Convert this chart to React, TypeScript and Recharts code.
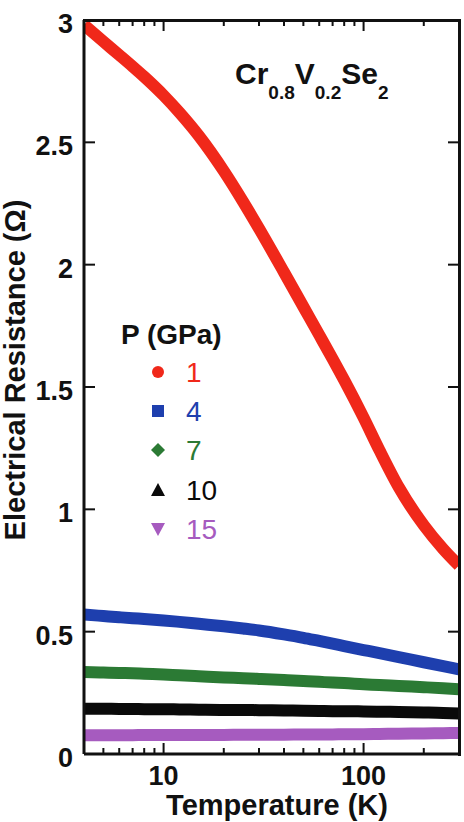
import React from "react";
import { LineChart, Line, XAxis, YAxis } from "recharts";

// temperature (K) and resistance (ohm) per pressure
const temps = [4, 5, 6, 7, 8, 10, 12, 15, 20, 25, 30, 40, 50, 60, 70, 80, 100, 120, 150, 200, 250, 300];
const r1 = [2.98, 2.912, 2.857, 2.81, 2.768, 2.692, 2.622, 2.527, 2.383, 2.257, 2.148, 1.969, 1.828, 1.713, 1.615, 1.528, 1.375, 1.242, 1.09, 0.935, 0.838, 0.77];
const r4 = [0.57, 0.564, 0.559, 0.555, 0.552, 0.546, 0.54, 0.532, 0.522, 0.513, 0.505, 0.489, 0.475, 0.462, 0.451, 0.441, 0.425, 0.412, 0.396, 0.375, 0.359, 0.346];
const r7 = [0.335, 0.333, 0.331, 0.33, 0.328, 0.325, 0.322, 0.318, 0.313, 0.31, 0.307, 0.302, 0.298, 0.295, 0.292, 0.29, 0.285, 0.282, 0.278, 0.273, 0.269, 0.265];
const r10 = [0.185, 0.185, 0.184, 0.184, 0.183, 0.183, 0.182, 0.181, 0.18, 0.18, 0.179, 0.178, 0.177, 0.176, 0.175, 0.175, 0.174, 0.173, 0.172, 0.17, 0.168, 0.165];
const r15 = [0.077, 0.077, 0.077, 0.077, 0.078, 0.078, 0.078, 0.078, 0.078, 0.079, 0.079, 0.079, 0.08, 0.08, 0.08, 0.081, 0.081, 0.082, 0.083, 0.084, 0.085, 0.086];

const pressures = ["1", "4", "7", "10", "15"];
const xTicks = [5, 6, 7, 8, 9, 10, 20, 30, 40, 50, 60, 70, 80, 90, 100, 200];
const xLabels = [10, 100];
const yTicks = [0, 0.5, 1, 1.5, 2, 2.5, 3];

const data = temps.map((t, i) => ({
  t,
  p1: r1[i],
  p4: r4[i],
  p7: r7[i],
  p10: r10[i],
  p15: r15[i],
}));

const colors = ["#f0281a", "#1e3fae", "#2b7a34", "#0a0a0a", "#a65bbf"];
const keys = ["p1", "p4", "p7", "p10", "p15"];

const FONT = '"Liberation Sans", Arial, Helvetica, sans-serif';
const AX = "#111";
const LEFT = 84;
const TOP = 20;
const PLOT_W = 375; // 464 - 84 (y axis) - 5 (right margin)
const PLOT_H = 734; // 822 - 20 (top margin) - 68 (x axis)

const X_DOMAIN = [4, 300];
const Y_DOMAIN = [0, 3];
const MARGIN = { top: TOP, right: 5, bottom: 0, left: 0 };
const AXIS_LINE = { stroke: AX, strokeWidth: 3 };

// positions of the mirrored ticks on the top/right edge (same domain as the axes)
const fx = (t: number) =>
  LEFT + (PLOT_W * (Math.log10(t) - Math.log10(X_DOMAIN[0]))) / (Math.log10(X_DOMAIN[1]) - Math.log10(X_DOMAIN[0]));
const fy = (v: number) => TOP + (PLOT_H * (Y_DOMAIN[1] - v)) / (Y_DOMAIN[1] - Y_DOMAIN[0]);

function renderXTick(props: any) {
  const { x, y, payload } = props;
  const major = xLabels.includes(payload.value);
  const len = major ? 11 : 6;
  return (
    <g key={"x" + payload.value}>
      <line x1={x} x2={x} y1={y} y2={y - len} stroke={AX} strokeWidth={2} />
      {major && (
        <text x={x} y={y + 31} textAnchor="middle" fontFamily={FONT} fontWeight="bold" fontSize={27} fill="#111">
          {payload.value}
        </text>
      )}
    </g>
  );
}

function renderYTick(props: any) {
  const { x, y, payload } = props;
  return (
    <g key={"y" + payload.value}>
      <line x1={x} x2={x + 11} y1={y} y2={y} stroke={AX} strokeWidth={2} />
      <text x={x - 11} y={y + 13} textAnchor="end" fontFamily={FONT} fontWeight="bold" fontSize={27} fill="#111">
        {payload.value}
      </text>
    </g>
  );
}

function Marker({ i, cx, cy }: { i: number; cx: number; cy: number }) {
  const c = colors[i];
  if (i === 0) return <circle cx={cx} cy={cy} r={6} fill={c} />;
  if (i === 1) return <rect x={cx - 6} y={cy - 6} width={12} height={12} fill={c} />;
  if (i === 2) return <polygon points={`${cx},${cy - 7} ${cx + 7},${cy} ${cx},${cy + 7} ${cx - 7},${cy}`} fill={c} />;
  if (i === 3) return <polygon points={`${cx},${cy - 7} ${cx + 7},${cy + 6} ${cx - 7},${cy + 6}`} fill={c} />;
  return <polygon points={`${cx - 7},${cy - 6} ${cx + 7},${cy - 6} ${cx},${cy + 7}`} fill={c} />;
}

const legendY = [372, 411, 450, 490, 529];

export default function App() {
  const right = LEFT + PLOT_W;
  return (
    <div style={{ position: "absolute", left: 0, top: 0, width: 464, height: 822, background: "#fff" }}>
      <LineChart width={464} height={822} data={data} margin={MARGIN}>
        <XAxis
          dataKey="t"
          type="number"
          scale="log"
          domain={X_DOMAIN}
          allowDataOverflow
          ticks={xTicks}
          height={68}
          tickSize={0}
          tickMargin={0}
          tickLine={false}
          axisLine={AXIS_LINE}
          tick={renderXTick}
          interval={0}
        />
        <YAxis
          type="number"
          domain={Y_DOMAIN}
          allowDataOverflow
          ticks={yTicks}
          width={84}
          tickSize={0}
          tickMargin={0}
          tickLine={false}
          axisLine={AXIS_LINE}
          tick={renderYTick}
          interval={0}
        />
        {keys.map((k, i) => (
          <Line
            key={k}
            dataKey={k}
            type="monotone"
            stroke={colors[i]}
            strokeWidth={12}
            dot={false}
            isAnimationActive={false}
          />
        ))}
      </LineChart>

      {/* top and right frame edges as plain bordered box */}
      <div
        style={{
          position: "absolute",
          left: LEFT - 1,
          top: TOP - 1.5,
          width: PLOT_W - 0.5,
          height: PLOT_H,
          borderTop: `3px solid ${AX}`,
          borderRight: `3px solid ${AX}`,
          pointerEvents: "none",
        }}
      />

      <svg
        width={464}
        height={822}
        style={{ position: "absolute", left: 0, top: 0, pointerEvents: "none" }}
        fontFamily={FONT}
      >
        {xTicks.map((t) => (
          <rect
            key={"tt" + t}
            x={fx(t) - 1}
            y={TOP}
            width={2}
            height={xLabels.includes(t) ? 11 : 6}
            fill={AX}
          />
        ))}
        {yTicks.slice(1, -1).map((v) => (
          <rect key={"rt" + v} x={right - 11} y={fy(v) - 1} width={11} height={2} fill={AX} />
        ))}

        <text x={235} y={84} fontWeight="bold" fontSize={30} fill="#111">
          Cr
          <tspan dy={15} fontSize={19}>0.8</tspan>
          <tspan dy={-15} fontSize={30}>V</tspan>
          <tspan dy={15} fontSize={19}>0.2</tspan>
          <tspan dy={-15} fontSize={30}>Se</tspan>
          <tspan dy={15} fontSize={19}>2</tspan>
        </text>

        <text x={121} y={344} fontWeight="bold" fontSize={28} fill="#111">
          P (GPa)
        </text>
        {pressures.map((p, i) => (
          <g key={p}>
            <Marker i={i} cx={158} cy={legendY[i]} />
            <text x={186} y={legendY[i] + 10} fontSize={28} fill={colors[i]}>
              {p}
            </text>
          </g>
        ))}

        <text x={277} y={815} textAnchor="middle" fontWeight="bold" fontSize={29} fill="#111">
          Temperature (K)
        </text>
        <text
          x={0}
          y={0}
          transform="translate(25,370) rotate(-90)"
          textAnchor="middle"
          fontWeight="bold"
          fontSize={29}
          fill="#111"
        >
          Electrical Resistance (Ω)
        </text>
      </svg>
    </div>
  );
}
